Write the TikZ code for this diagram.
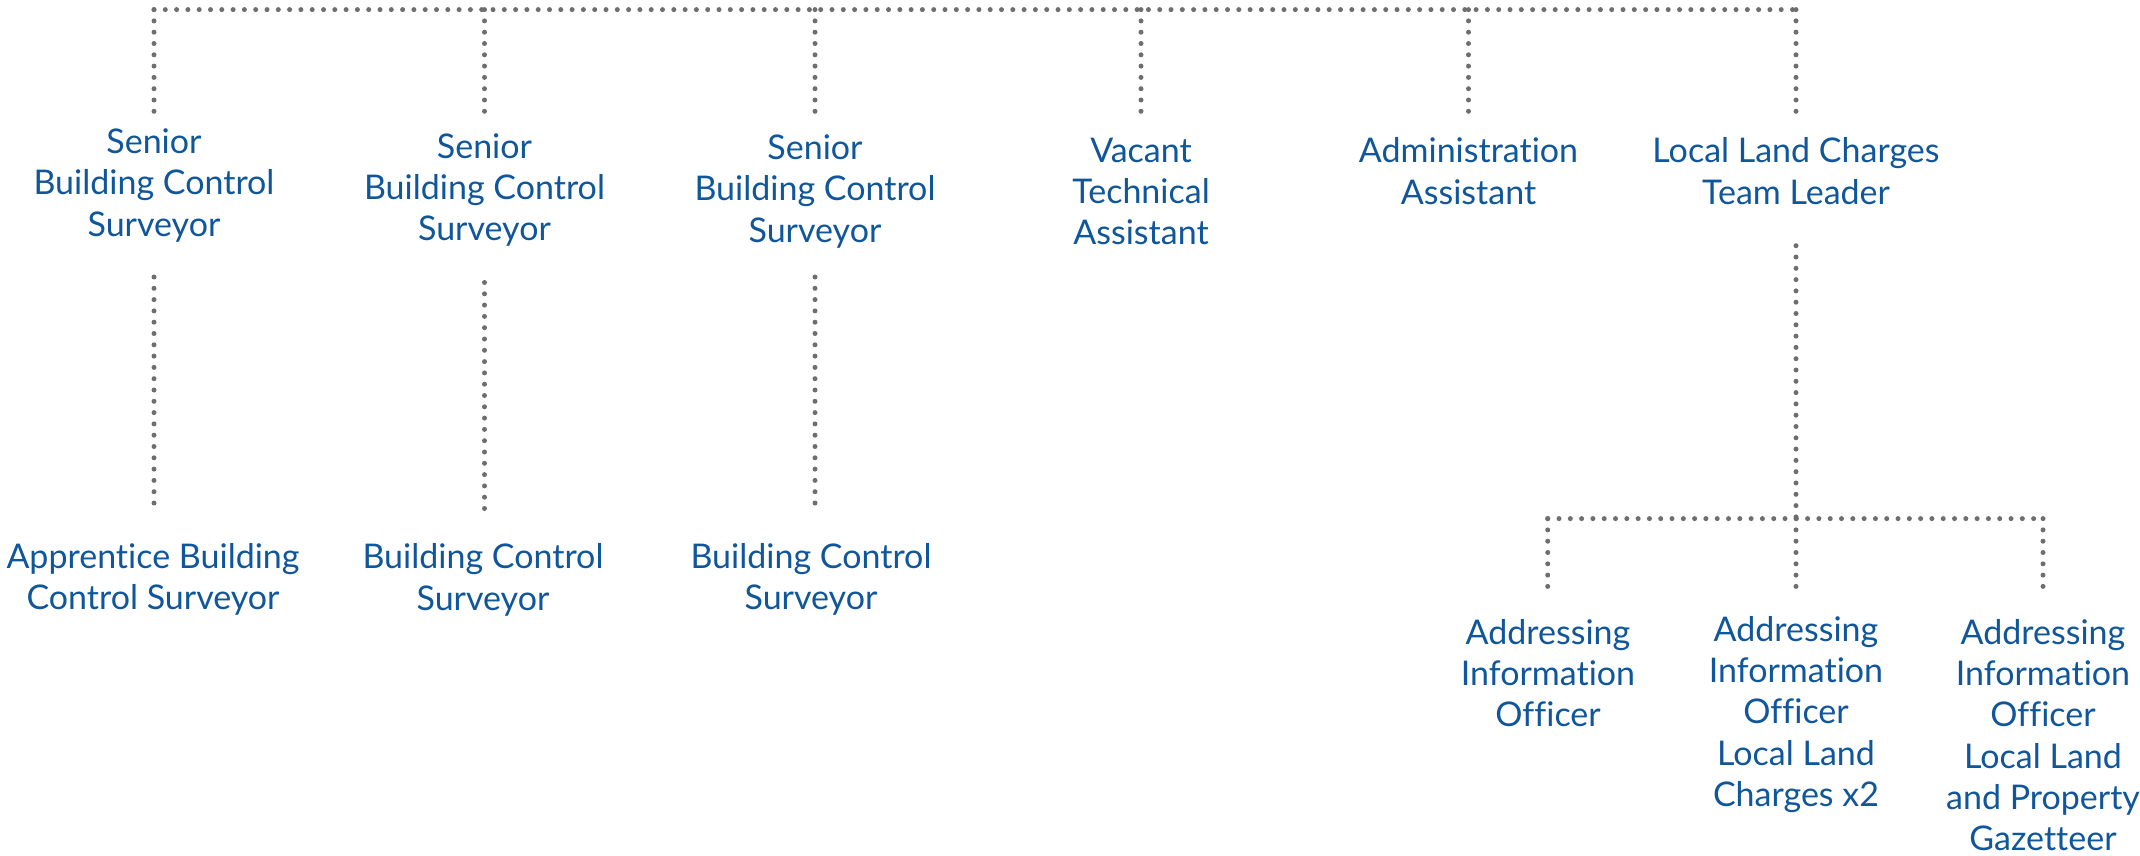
\documentclass[tikz,border=0pt]{standalone}
\usepackage{fontspec}
\setmainfont{Lato}[Ligatures=NoCommon]
\definecolor{txtblue}{RGB}{16,86,154}
\definecolor{dotgray}{RGB}{110,110,112}
\begin{document}
\begin{tikzpicture}[x=1pt,y=-1pt,
  role/.style={align=center, text=txtblue, inner sep=0pt, font=\fontsize{34}{41.3}\selectfont},
  link/.style={draw=dotgray, line width=5pt, line cap=round, dash pattern=on 0pt off 11.3pt}]
\useasboundingbox (0,0) rectangle (2140,856);
% role nodes
\node[role] (s1) at (154,185.5) {Senior\\Building Control\\Surveyor};
\node[role] (s2) at (484.5,190) {Senior\\Building Control\\Surveyor};
\node[role] (s3) at (815,191.5) {Senior\\Building Control\\Surveyor};
\node[role] (vt) at (1141,191.5) {Vacant\\Technical\\Assistant};
\node[role] (aa) at (1468.5,171) {Administration\\Assistant};
\node[role] (tl) at (1796,171) {Local Land Charges\\Team Leader};
\node[role] (b1) at (153,579.5) {Apprentice Building\\Control Surveyor};
\node[role] (b2) at (483,580) {Building Control\\Surveyor};
\node[role] (b3) at (811,579.5) {Building Control\\Surveyor};
\node[role] (a1) at (1548,673) {Addressing\\Information\\Officer};
\node[role] (a2) at (1796,714.5) {Addressing\\Information\\Officer\\Local Land\\Charges x2};
\node[role] (a3) at (2043,735) {Addressing\\Information\\Officer\\Local Land\\and Property\\Gazetteer};
% connector points
\coordinate (t1) at (154,9.6);
\coordinate (t2) at (484.5,9.6);
\coordinate (t3) at (815,9.6);
\coordinate (t4) at (1141,9.6);
\coordinate (t5) at (1468.5,9.6);
\coordinate (t6) at (1796,9.6);
\coordinate (e1) at (154,112);
\coordinate (e2) at (484.5,120);
\coordinate (e3) at (815,113);
\coordinate (e4) at (1141,120);
\coordinate (e5) at (1468.5,120);
\coordinate (e6) at (1796,121.5);
\coordinate (u1) at (154,277);
\coordinate (d1) at (154,512);
\coordinate (u2) at (484.5,282.5);
\coordinate (d2) at (484.5,516);
\coordinate (u3) at (815,277);
\coordinate (d3) at (815,512);
\coordinate (u6) at (1796,245.7);
\coordinate (j) at (1796,518.6);
\coordinate (k1) at (1547.7,518.6);
\coordinate (k3) at (2043,518.6);
\coordinate (f1) at (1547.7,593.7);
\coordinate (f2) at (1796,596);
\coordinate (f3) at (2043,592.5);
% connectors
\draw[link] (t1) -- (t6);
\draw[link] (t1) -- (e1);
\draw[link] (t2) -- (e2);
\draw[link] (t3) -- (e3);
\draw[link] (t4) -- (e4);
\draw[link] (t5) -- (e5);
\draw[link] (t6) -- (e6);
\draw[link] (u1) -- (d1);
\draw[link] (u2) -- (d2);
\draw[link] (u3) -- (d3);
\draw[link] (u6) -- (j);
\draw[link] (k1) -- (k3);
\draw[link] (k1) -- (f1);
\draw[link] (j) -- (f2);
\draw[link] (k3) -- (f3);
\end{tikzpicture}
\end{document}
